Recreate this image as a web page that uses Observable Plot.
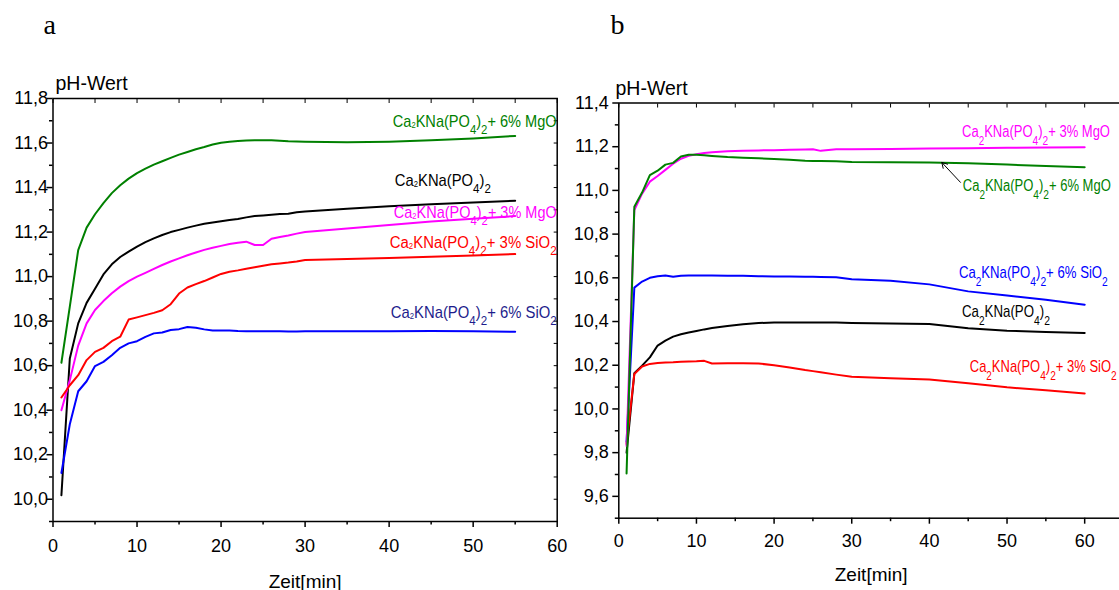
<!DOCTYPE html>
<html><head><meta charset="utf-8">
<script src="https://cdn.jsdelivr.net/npm/d3@7"></script>
<script src="https://cdn.jsdelivr.net/npm/@observablehq/plot@0.6"></script>
<style>
html,body{margin:0;padding:0;background:#fff;overflow:hidden;}
#wrap{position:relative;width:1119px;height:590px;overflow:hidden;background:#fff;}
#pa{position:absolute;left:0;top:0;width:560px;height:590px;}
#pb{position:absolute;left:560px;top:0;width:600px;height:590px;}
#wrap svg{max-width:none !important;}
</style></head>
<body><div id="wrap"><div id="pa"></div><div id="pb"></div></div>
<script>
// ---------- Panel a data ----------
const tA = [1,2,3,4,5,6,7,8,9,10,11,12,13,14,15,16,17,18,19,20,21,22,23,24,25,26,27,28,29,30,35,40,45,50,55];
const greenA = [10.613,10.865,11.119,11.22,11.28,11.33,11.375,11.41,11.44,11.465,11.485,11.503,11.518,11.533,11.548,11.56,11.572,11.582,11.593,11.601,11.606,11.609,11.611,11.612,11.613,11.612,11.61,11.608,11.607,11.606,11.604,11.606,11.612,11.62,11.632];
const blackA = [10.018,10.632,10.79,10.882,10.945,11.01,11.055,11.088,11.112,11.135,11.155,11.172,11.187,11.2,11.21,11.22,11.229,11.237,11.243,11.249,11.254,11.259,11.266,11.272,11.275,11.278,11.281,11.282,11.289,11.292,11.305,11.316,11.325,11.333,11.341];
const magentaA = [10.40,10.535,10.69,10.79,10.85,10.89,10.925,10.955,10.98,11.0,11.017,11.035,11.052,11.068,11.082,11.096,11.108,11.12,11.13,11.138,11.146,11.152,11.157,11.142,11.142,11.17,11.178,11.185,11.193,11.2,11.216,11.232,11.248,11.26,11.272];
const redA = [10.457,10.512,10.557,10.625,10.662,10.68,10.71,10.73,10.807,10.817,10.827,10.837,10.849,10.876,10.924,10.951,10.966,10.98,10.996,11.012,11.022,11.028,11.035,11.042,11.049,11.055,11.059,11.063,11.068,11.075,11.079,11.084,11.089,11.095,11.101];
const blueA = [10.118,10.337,10.485,10.53,10.598,10.617,10.647,10.68,10.70,10.71,10.729,10.745,10.749,10.76,10.764,10.774,10.77,10.763,10.758,10.758,10.758,10.756,10.755,10.755,10.755,10.754,10.754,10.753,10.753,10.754,10.754,10.755,10.756,10.754,10.752];

// ---------- Panel b data ----------
const tB = [1,2,3,4,5,6,7,8,9,10,11,12,14,16,18,20,22,24,25,26,28,30,35,40,45,50,55,60];
const magentaB = [9.83,10.91,10.985,11.04,11.066,11.094,11.122,11.145,11.158,11.165,11.171,11.175,11.179,11.181,11.183,11.184,11.186,11.187,11.188,11.181,11.188,11.188,11.19,11.192,11.193,11.195,11.196,11.197];
const greenB = [9.705,10.925,10.99,11.07,11.09,11.118,11.126,11.155,11.163,11.163,11.161,11.158,11.153,11.15,11.147,11.144,11.14,11.136,11.135,11.135,11.134,11.13,11.129,11.128,11.124,11.118,11.112,11.106];
const blueB = [9.85,10.555,10.583,10.60,10.607,10.611,10.605,10.61,10.611,10.611,10.611,10.611,10.61,10.609,10.607,10.606,10.606,10.605,10.605,10.604,10.603,10.593,10.587,10.57,10.538,10.519,10.50,10.477];
const blackB = [9.80,10.163,10.198,10.236,10.29,10.313,10.331,10.342,10.35,10.357,10.364,10.37,10.38,10.388,10.393,10.396,10.396,10.396,10.396,10.395,10.395,10.393,10.391,10.389,10.369,10.358,10.352,10.348];
const redB = [9.84,10.16,10.194,10.206,10.21,10.213,10.214,10.216,10.217,10.218,10.22,10.208,10.209,10.209,10.208,10.2,10.19,10.178,10.173,10.168,10.157,10.147,10.14,10.135,10.118,10.099,10.085,10.071];

// ---------- Ticks ----------
const xMajorA = [0,10,20,30,40,50,60];
const xMinorA = [5,15,25,35,45,55];
const xMajorB = [0,10,20,30,40,50,60];
const xMinorB = [5,15,25,35,45,55,65];
const yMajorA = [10.0,10.2,10.4,10.6,10.8,11.0,11.2,11.4,11.6,11.8];
const yLabelsA = ["10,0","10,2","10,4","10,6","10,8","11,0","11,2","11,4","11,6","11,8"];
const yMinorA = [9.9,10.1,10.3,10.5,10.7,10.9,11.1,11.3,11.5,11.7];
const yMajorB = [9.6,9.8,10.0,10.2,10.4,10.6,10.8,11.0,11.2,11.4];
const yLabelsB = ["9,6","9,8","10,0","10,2","10,4","10,6","10,8","11,0","11,2","11,4"];
const yMinorB = [9.5,9.7,9.9,10.1,10.3,10.5,10.7,10.9,11.1,11.3];

// ---------- Labels ----------
const labelTextA = ["Ca₂KNa(PO₄)₂+ 6% MgO","Ca₂KNa(PO₄)₂","Ca₂KNa(PO₄)₂+ 3% MgO","Ca₂KNa(PO₄)₂+ 3% SiO₂","Ca₂KNa(PO₄)₂+ 6% SiO₂"];
const labelXA = [59.94,52.1,59.94,59.94,59.94];
const labelYA = [11.672,11.407,11.264,11.129,10.812];
const labelColorA = ["#008000","#000000","#ff00ff","#ff0000","#1d1d8c"];
const labelTextB = ["Ca₂KNa(PO₄)₂+ 3% MgO","Ca₂KNa(PO₄)₂+ 6% MgO","Ca₂KNa(PO₄)₂+ 6% SiO₂","Ca₂KNa(PO₄)₂","Ca₂KNa(PO₄)₂+ 3% SiO₂"];
const labelXB = [44.2,44.3,43.8,44.2,45.2];
const labelYB = [11.243,10.996,10.598,10.419,10.168];
const labelColorB = ["#ff00ff","#008000","#0000ff","#000000","#ff0000"];
const arrowB = [{x1: 44.0, y1: 11.037, x2: 41.6, y2: 11.128}];

// ---------- Styling ----------
const FONT = "'Liberation Sans', Arial, Helvetica, sans-serif";
const LABEL_FS = 16;
const labelLenA = [164, 96, 163, 167, 166];
const labelLenB = [148, 148, 149, 88, 147];
const subStyleA = {first: {r: 0.52, drop: 1}, rest: {r: 0.78, drop: 7}};
const subStyleB = {first: {r: 0.76, drop: 8}, rest: {r: 0.78, drop: 8}};

function series(t, v) { return t.map((x, i) => ({t: x, v: v[i]})); }
function labels(text, xs, ys, cols) { return text.map((s, i) => ({s, x: xs[i], y: ys[i], c: cols[i]})); }

const subMap = new Map([["₀","0"],["₁","1"],["₂","2"],["₃","3"],["₄","4"],["₅","5"],["₆","6"],["₇","7"],["₈","8"],["₉","9"]]);
function subscriptify(svg, fs, st) {
  d3.select(svg).selectAll("g.lbl text").each(function() {
    const el = this;
    const chars = [...el.textContent];
    el.textContent = "";
    let shifted = 0, subCount = 0, i = 0;
    while (i < chars.length) {
      const isSub = subMap.has(chars[i]);
      let j = i;
      while (j < chars.length && subMap.has(chars[j]) === isSub) j++;
      const chunk = chars.slice(i, j).join("");
      const ts = d3.select(el).append("tspan");
      if (isSub) {
        const p = subCount === 0 ? st.first : st.rest; subCount++;
        ts.text([...chunk].map(c => subMap.get(c)).join("")).attr("font-size", fs * p.r);
        if (p.drop - shifted) ts.attr("dy", p.drop - shifted);
        shifted = p.drop;
      } else {
        ts.text(chunk);
        if (shifted) ts.attr("dy", -shifted);
        shifted = 0;
      }
      i = j;
    }
  });
}
// condense labels horizontally (after the SVG is in the document, so it can be measured)
function fitLabels(svg, lens) {
  d3.select(svg).selectAll("g.lbl text").each(function(_, k) {
    const w = this.getComputedTextLength();
    if (!w || !lens[k]) return;
    const sx = lens[k] / w;
    const tr = this.getAttribute("transform") || "";
    this.setAttribute("transform", `${tr} scale(${sx},1)`);
  });
}

function commonAxes(xMajor, xMinor, yMajor, yLabels, yMinor, xPad, yPad, withRight) {
  const marks = [
    Plot.axisX(xMajor, {anchor: "bottom", tickSize: 6, tickPadding: xPad, strokeWidth: 1.5, fontSize: 18, label: null, tickFormat: d => String(d)}),
    Plot.axisX(xMinor, {anchor: "bottom", tickSize: 3.5, strokeWidth: 1.5, label: null, tickFormat: () => ""}),
    Plot.axisX(xMajor.concat(xMinor), {anchor: "top", tickSize: -4, strokeWidth: 1, label: null, tickFormat: () => ""}),
    Plot.axisY(yMajor, {anchor: "left", tickSize: 6, tickPadding: yPad, strokeWidth: 1.5, fontSize: 18, label: null, tickFormat: d => yLabels[yMajor.indexOf(d)]}),
    Plot.axisY(yMinor, {anchor: "left", tickSize: 3.5, strokeWidth: 1.5, label: null, tickFormat: () => ""})
  ];
  if (withRight) marks.push(Plot.axisY(yMajor.concat(yMinor), {anchor: "right", tickSize: -4, strokeWidth: 1, label: null, tickFormat: () => ""}));
  return marks;
}

// ---------- Panel a ----------
const plotA = Plot.plot({
  width: 560, height: 590,
  marginLeft: 52.5, marginRight: 3.3, marginTop: 98, marginBottom: 69,
  style: {fontFamily: FONT, fontSize: "18px", background: "transparent", overflow: "visible", color: "black", maxWidth: "none"},
  x: {domain: [0, 60], label: null},
  y: {domain: [9.9, 11.8], label: null},
  marks: [
    ...commonAxes(xMajorA, xMinorA, yMajorA, yLabelsA, yMinorA, 12, -1, true),
    Plot.line(series(tA, blackA), {x: "t", y: "v", stroke: "#000000", strokeWidth: 2}),
    Plot.line(series(tA, magentaA), {x: "t", y: "v", stroke: "#ff00ff", strokeWidth: 2}),
    Plot.line(series(tA, redA), {x: "t", y: "v", stroke: "#ff0000", strokeWidth: 2}),
    Plot.line(series(tA, blueA), {x: "t", y: "v", stroke: "#0000ff", strokeWidth: 2}),
    Plot.line(series(tA, greenA), {x: "t", y: "v", stroke: "#008000", strokeWidth: 2}),
    Plot.frame({stroke: "black", strokeWidth: 1.5}),
    Plot.text(labels(labelTextA, labelXA, labelYA, labelColorA), {x: "x", y: "y", text: "s", fill: "c", textAnchor: "end", lineAnchor: "bottom", fontSize: LABEL_FS, className: "lbl"}),
    Plot.text(["pH-Wert"], {frameAnchor: "top-left", text: d => d, textAnchor: "start", lineAnchor: "bottom", dx: 2.5, dy: -8.7, fontSize: 19.5}),
    Plot.text(["Zeit[min]"], {frameAnchor: "bottom", text: d => d, textAnchor: "middle", lineAnchor: "bottom", dy: 66, fontSize: 19}),
    Plot.text(["a"], {frameAnchor: "top-left", text: d => d, textAnchor: "start", lineAnchor: "bottom", dx: -9.5, dy: -65, fontSize: 28, fontFamily: "'Liberation Serif', 'Times New Roman', serif"})
  ]
});
subscriptify(plotA, LABEL_FS, subStyleA);
document.getElementById("pa").appendChild(plotA);
fitLabels(plotA, labelLenA);

// ---------- Panel b ----------
const plotB = Plot.plot({
  width: 600, height: 590,
  marginLeft: 58.3, marginRight: 37, marginTop: 102.5, marginBottom: 72.3,
  style: {fontFamily: FONT, fontSize: "18px", background: "transparent", overflow: "visible", color: "black", maxWidth: "none"},
  x: {domain: [0, 65], label: null},
  y: {domain: [9.5, 11.4], label: null},
  marks: [
    ...commonAxes(xMajorB, xMinorB, yMajorB, yLabelsB, yMinorB, 10, 4, false),
    Plot.line(series(tB, blackB), {x: "t", y: "v", stroke: "#000000", strokeWidth: 2}),
    Plot.line(series(tB, redB), {x: "t", y: "v", stroke: "#ff0000", strokeWidth: 2}),
    Plot.line(series(tB, blueB), {x: "t", y: "v", stroke: "#0000ff", strokeWidth: 2}),
    Plot.line(series(tB, magentaB), {x: "t", y: "v", stroke: "#ff00ff", strokeWidth: 2}),
    Plot.line(series(tB, greenB), {x: "t", y: "v", stroke: "#008000", strokeWidth: 2}),
    Plot.frame({stroke: "black", strokeWidth: 1.5}),
    Plot.arrow(arrowB, {x1: "x1", y1: "y1", x2: "x2", y2: "y2", stroke: "black", strokeWidth: 1, headLength: 9}),
    Plot.text(labels(labelTextB, labelXB, labelYB, labelColorB), {x: "x", y: "y", text: "s", fill: "c", textAnchor: "start", lineAnchor: "bottom", fontSize: LABEL_FS, className: "lbl"}),
    Plot.text(["pH-Wert"], {frameAnchor: "top-left", text: d => d, textAnchor: "start", lineAnchor: "bottom", dx: -3.3, dy: -8.2, fontSize: 19.5}),
    Plot.text(["Zeit[min]"], {frameAnchor: "bottom", text: d => d, textAnchor: "middle", lineAnchor: "bottom", dy: 62.3, fontSize: 19}),
    Plot.text(["b"], {frameAnchor: "top-left", text: d => d, textAnchor: "start", lineAnchor: "bottom", dx: -8.3, dy: -69.5, fontSize: 28, fontFamily: "'Liberation Serif', 'Times New Roman', serif"})
  ]
});
subscriptify(plotB, LABEL_FS, subStyleB);
document.getElementById("pb").appendChild(plotB);
fitLabels(plotB, labelLenB);
</script>
</body></html>
